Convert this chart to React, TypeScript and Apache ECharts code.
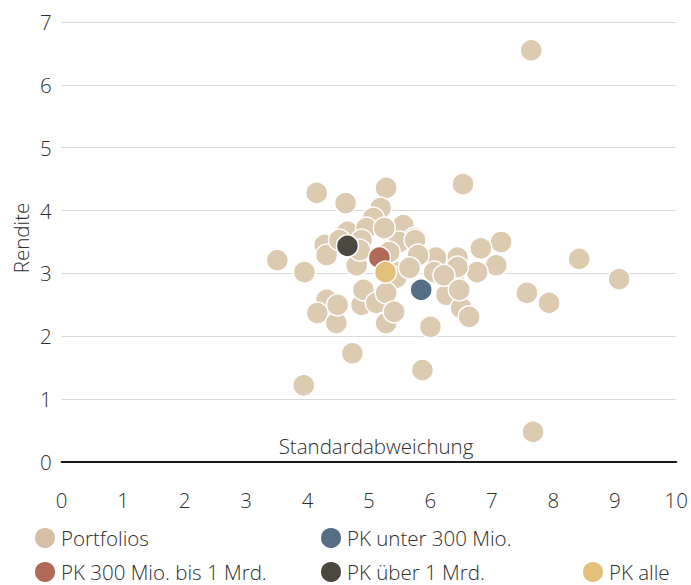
import React, { useEffect, useRef } from "react";
import * as echarts from "echarts";

const portfolios: [number, number][] = [
  [7.64, 6.55], [3.51, 3.21], [3.95, 3.02], [3.94, 1.22], [4.15, 4.28], [4.62, 4.12],
  [5.28, 4.36], [6.53, 4.42], [5.19, 4.04], [5.07, 3.88], [5.56, 3.77], [5.74, 3.56],
  [4.65, 3.66], [4.96, 3.72], [4.28, 3.45], [4.31, 3.29], [4.80, 3.13], [5.49, 3.50],
  [5.49, 3.02], [5.75, 3.53], [7.15, 3.50], [6.82, 3.40], [6.44, 3.25], [6.09, 3.25],
  [5.80, 3.29], [7.07, 3.13], [6.76, 3.02], [6.39, 2.86], [6.26, 2.66], [6.50, 2.45],
  [6.63, 2.31], [6.00, 2.15], [5.44, 2.93], [5.25, 2.55], [5.38, 2.39], [5.28, 2.21],
  [6.06, 3.02], [6.44, 3.10], [4.31, 2.58], [4.16, 2.37], [4.47, 2.21], [4.49, 2.50],
  [4.88, 2.50], [4.91, 2.74], [5.12, 2.53], [5.28, 2.69], [5.41, 2.39], [4.73, 1.73],
  [5.87, 1.46], [7.67, 0.48], [7.57, 2.69], [7.93, 2.53], [8.42, 3.23], [9.07, 2.91],
  [4.52, 3.53], [4.88, 3.53], [5.25, 3.72], [5.33, 3.34], [5.66, 3.09], [4.85, 3.37],
  [6.22, 2.97], [6.47, 2.74],
];
const pkUnter300: [number, number][] = [[5.85, 2.74]];
const pk300bis1Mrd: [number, number][] = [[5.17, 3.25]];
const pkUeber1Mrd: [number, number][] = [[4.65, 3.44]];
const pkAlle: [number, number][] = [[5.27, 3.02]];

const seriesNames = [
  "Portfolios",
  "PK unter 300 Mio.",
  "PK 300 Mio. bis 1 Mrd.",
  "PK über 1 Mrd.",
  "PK alle",
];
const seriesColors = ["#dccab1", "#566d86", "#b06a55", "#4b4840", "#e3c07a"];
const legendColors = ["#d5bfa5", "#566d86", "#b06a55", "#4b4840", "#e3c07a"];
const seriesData = [portfolios, pkUnter300, pk300bis1Mrd, pkUeber1Mrd, pkAlle];
const xTicks = [0, 10, 1];
const yTicks = [0, 7, 1];

const FONT = "Open Sans";
const TXT = "#2e2e2e";
const FS = 20.5;
const FW = 300;

export default function App() {
  const ref = useRef<HTMLDivElement>(null);
  useEffect(() => {
    if (!ref.current) return;
    const chart = echarts.init(ref.current, undefined, { renderer: "svg" });
    const legendPos = [
      { left: 33, top: 526 },
      { left: 319, top: 526 },
      { left: 33, top: 560 },
      { left: 319, top: 560 },
      { left: 581, top: 560 },
    ];
    chart.setOption({
      animation: false,
      grid: { left: 61.6, right: 13.4, top: 22, bottom: 123, containLabel: false },
      xAxis: {
        type: "value",
        min: xTicks[0],
        max: xTicks[1],
        interval: xTicks[2],
        axisLine: { show: true, lineStyle: { color: "#1a1a1a", width: 2 } },
        axisTick: { show: false },
        splitLine: { show: false },
        axisLabel: { margin: 27, fontFamily: FONT, fontSize: FS, fontWeight: FW, color: TXT },
      },
      yAxis: {
        type: "value",
        min: yTicks[0],
        max: yTicks[1],
        interval: yTicks[2],
        axisLine: { show: false },
        axisTick: { show: false },
        splitLine: { show: true, lineStyle: { color: "#d9d9d9", width: 1 } },
        axisLabel: { margin: 10, fontFamily: FONT, fontSize: FS, fontWeight: FW, color: TXT },
      },
      legend: seriesNames.map((n, i) => ({
        data: [n],
        left: legendPos[i].left,
        top: legendPos[i].top,
        padding: 0,
        icon: "circle",
        itemWidth: 22,
        itemHeight: 22,
        itemGap: 0,
        selectedMode: false,
        itemStyle: { color: legendColors[i] },
        textStyle: { fontFamily: FONT, fontSize: FS, fontWeight: FW, color: TXT, lineHeight: 20 },
      })),
      graphic: [
        {
          type: "text",
          x: 376,
          y: 446,
          style: { text: "Standardabweichung", fontFamily: FONT, fontSize: FS, fontWeight: FW, fill: TXT, align: "center", verticalAlign: "middle" },
        },
        {
          type: "text",
          x: 21,
          y: 238,
          rotation: Math.PI / 2,
          style: { text: "Rendite", fontFamily: FONT, fontSize: FS, fontWeight: FW, fill: TXT, align: "center", verticalAlign: "middle" },
        },
      ],
      series: seriesNames.map((n, i) => ({
        name: n,
        type: "scatter",
        data: seriesData[i],
        symbol: "circle",
        symbolSize: 22,
        itemStyle: { color: seriesColors[i], borderColor: "#ffffff", borderWidth: 1.5, opacity: 1 },
        emphasis: { disabled: true },
        z: i + 2,
      })),
    });
    return () => chart.dispose();
  }, []);
  return <div ref={ref} style={{ width: 691, height: 585, position: "absolute", left: 0, top: 0 }} />;
}
